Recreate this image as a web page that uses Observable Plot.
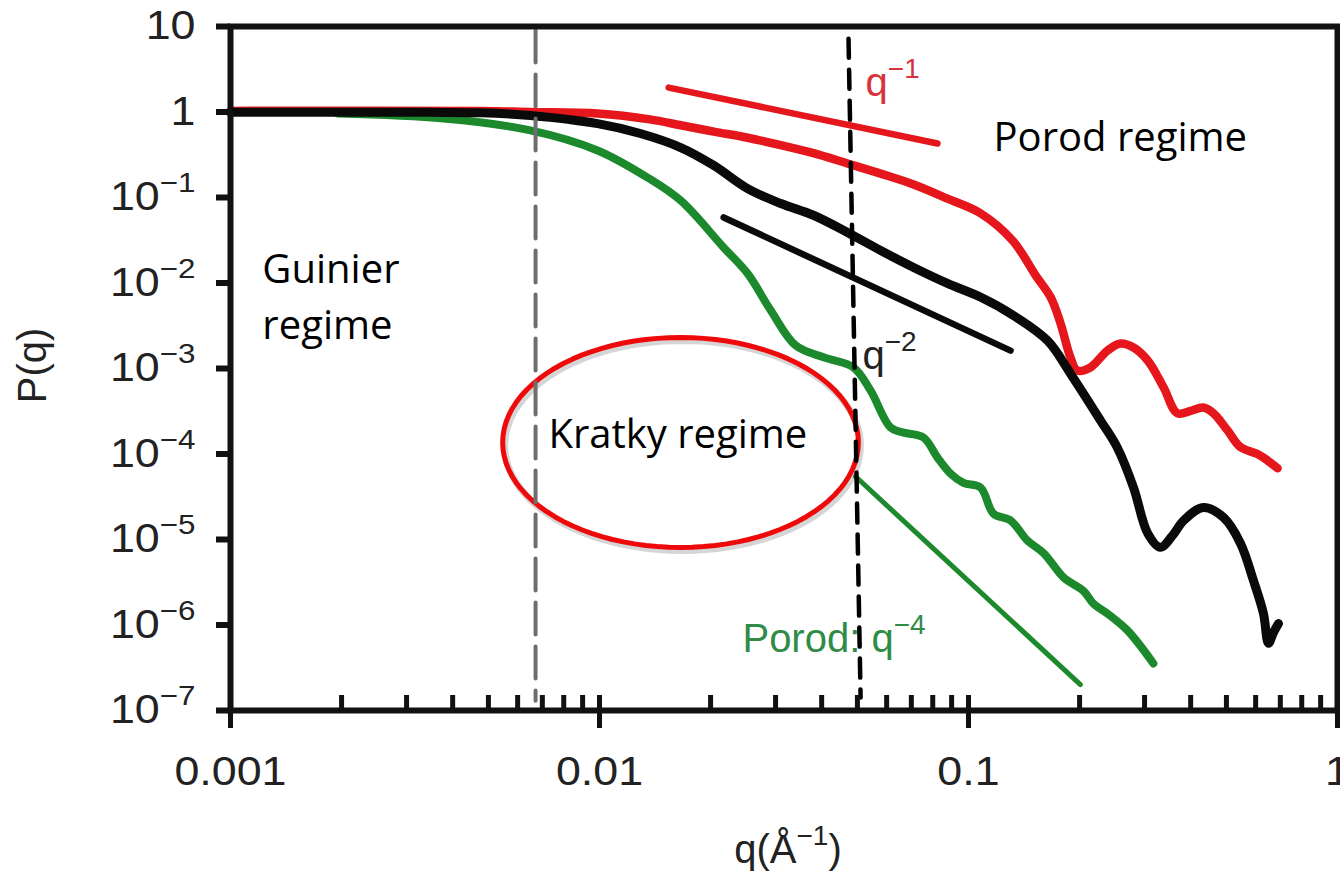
<!DOCTYPE html>
<html><head><meta charset="utf-8">
<script src="https://cdn.jsdelivr.net/npm/d3@7"></script>
<script src="https://cdn.jsdelivr.net/npm/@observablehq/plot@0.6"></script>
<style>
html,body{margin:0;padding:0;background:#fff;}
#chart svg{display:block;}
</style></head><body><div id="chart"></div>
<script>
// ---- axis ticks ----
const xMajor = [0.001, 0.01, 0.1, 1];
const xTickLabels = ["0.001", "0.01", "0.1", "1"];
const xMantissas = [2, 3, 4, 5, 6, 7, 8, 9];
const yTicks = [10, 1, 1e-1, 1e-2, 1e-3, 1e-4, 1e-5, 1e-6, 1e-7];
const yTickLabels = ["10", "1", "10^{−1}", "10^{−2}", "10^{−3}", "10^{−4}", "10^{−5}", "10^{−6}", "10^{−7}"];

// ---- series ----
const blackQ = [0.001, 0.00187, 0.00348, 0.00476, 0.0065, 0.00988, 0.0129, 0.0166, 0.0204, 0.0252, 0.031, 0.038, 0.047, 0.0578, 0.071, 0.0877, 0.108, 0.132, 0.164, 0.189, 0.228, 0.253, 0.28, 0.306, 0.331, 0.357, 0.383, 0.433, 0.491, 0.546, 0.592, 0.630, 0.650, 0.671, 0.692];
const blackP = [0.99, 0.99, 0.99, 0.98, 0.91, 0.73, 0.56, 0.384, 0.237, 0.127, 0.085, 0.062, 0.039, 0.024, 0.0152, 0.0099, 0.0068, 0.0042, 0.0021, 8.7e-4, 2.46e-4, 1.19e-4, 4.06e-5, 1.18e-5, 8.1e-6, 1.11e-5, 1.67e-5, 2.37e-5, 1.81e-5, 9.0e-6, 3.3e-6, 1.36e-6, 6.1e-7, 8.2e-7, 1.04e-6];

const redQ = [0.001, 0.00476, 0.0065, 0.00988, 0.0137, 0.0166, 0.0204, 0.0252, 0.031, 0.038, 0.047, 0.0578, 0.071, 0.0877, 0.108, 0.132, 0.152, 0.167, 0.1775, 0.189, 0.197, 0.214, 0.238, 0.258, 0.280, 0.306, 0.338, 0.368, 0.400, 0.433, 0.461, 0.503, 0.546, 0.607, 0.646, 0.688];
const redP = [1.03, 1.03, 1.0, 0.96, 0.82, 0.70, 0.59, 0.50, 0.41, 0.33, 0.25, 0.19, 0.142, 0.097, 0.065, 0.031, 0.0123, 0.0068, 0.0034, 0.00134, 9.5e-4, 1.03e-3, 1.62e-3, 1.96e-3, 1.76e-3, 1.24e-3, 6.0e-4, 3.0e-4, 3.2e-4, 3.5e-4, 3.0e-4, 1.9e-4, 1.2e-4, 1.0e-4, 8.4e-5, 6.8e-5];

const greenQ = [0.00195, 0.00378, 0.0065, 0.00988, 0.0135, 0.0166, 0.0217, 0.0252, 0.0291, 0.034, 0.0405, 0.0488, 0.0543, 0.0615, 0.0667, 0.0755, 0.0824, 0.0894, 0.0969, 0.1078, 0.1169, 0.130, 0.1445, 0.160, 0.181, 0.205, 0.218, 0.238, 0.270, 0.317];
const greenP = [0.96, 0.84, 0.61, 0.355, 0.171, 0.092, 0.026, 0.0129, 0.0048, 0.00186, 0.00135, 0.00103, 5.5e-4, 2.04e-4, 1.78e-4, 1.56e-4, 9.1e-5, 5.9e-5, 4.6e-5, 4.06e-5, 2.0e-5, 1.67e-5, 9.7e-6, 6.9e-6, 3.6e-6, 2.5e-6, 1.78e-6, 1.36e-6, 8.6e-7, 3.55e-7];

// power-law guide lines
const redFitQ = [0.0154, 0.0824], redFitP = [1.93, 0.428];
const blackFitQ = [0.0217, 0.130], blackFitP = [0.0584, 0.00162];
const greenFitQ = [0.0494, 0.201], greenFitP = [5.46e-5, 2.01e-7];

// regime boundaries (dashed)
const greyDashQ = [0.00671, 0.00671], greyDashP = [9.0, 1.3e-7];
const blackDashQ = [0.0473, 0.0510], blackDashP = [7.2, 1.42e-7];

// annotations
const regimeLabels = ["Guinier", "regime", "Kratky regime", "Porod regime"];
const regimeQ = [0.00122, 0.00122, 0.00727, 0.1169];
const regimeP = [0.00987, 0.00224, 1.16e-4, 0.3545];
const slopeLabels = ["q^{−1}", "q^{−2}", "Porod: q^{−4}"];
const slopeQ = [0.0526, 0.0516, 0.0244];
const slopeP = [1.52, 0.001, 4.77e-7];
const slopeColors = ["#d8323c", "#222222", "#2f8c47"];

// Kratky ellipse (centre and half-axes in decades)
const ellipseCenterQ = 0.01658, ellipseCenterP = 1.364e-4;
const ellipseRxDecades = 0.482, ellipseRyDecades = 1.228;

// ---- build tables ----
const rows = (qs, ps) => qs.map((q, i) => ({q, p: ps[i]}));
const xMinor = xMajor.slice(0, -1).flatMap(d => xMantissas.map(m => m * d));
const ellipse = d3.range(0, 97).map(i => {
  const t = i / 96 * 2 * Math.PI;
  return {
    q: 10 ** (Math.log10(ellipseCenterQ) + ellipseRxDecades * Math.cos(t)),
    p: 10 ** (Math.log10(ellipseCenterP) + ellipseRyDecades * Math.sin(t))
  };
});
const regimes = regimeLabels.map((t, i) => ({t, q: regimeQ[i], p: regimeP[i]}));
const slopes = slopeLabels.map((t, i) => ({t, q: slopeQ[i], p: slopeP[i], c: slopeColors[i]}));

const SANS = "Liberation Sans, Arial, Helvetica, sans-serif";
const CAL = "Open Sans, Noto Sans, sans-serif";

const chart = Plot.plot({
  width: 1340, height: 872,
  marginLeft: 230, marginRight: 3, marginTop: 26, marginBottom: 162,
  x: {type: "log", domain: [1e-3, 1]},
  y: {type: "log", domain: [1e-7, 10]},
  style: {background: "#fff"},
  marks: [
    Plot.line(ellipse, {x: "q", y: "p", stroke: "#888", strokeOpacity: 0.35, strokeWidth: 7, dx: 2, dy: 3, curve: "linear"}),
    Plot.line(ellipse, {x: "q", y: "p", stroke: "#ee0a0a", strokeWidth: 5, curve: "linear"}),
    Plot.text(regimes, {x: "q", y: "p", text: "t", textAnchor: "start", lineAnchor: "bottom", fontFamily: CAL, fontSize: 40, fill: "#000"}),
    Plot.text(slopes, {x: "q", y: "p", text: "t", textAnchor: "start", lineAnchor: "bottom", fontFamily: SANS, fontSize: 40, fill: "c", ariaLabel: "sans-label"}),
    Plot.line(rows(redQ, redP), {x: "q", y: "p", stroke: "#e5171d", strokeWidth: 8.5, curve: "catmull-rom", strokeLinejoin: "round", strokeLinecap: "round"}),
    Plot.line(rows(greenQ, greenP), {x: "q", y: "p", stroke: "#1c8a2c", strokeWidth: 8, curve: "catmull-rom", strokeLinejoin: "round", strokeLinecap: "round"}),
    Plot.line(rows(blackQ, blackP), {x: "q", y: "p", stroke: "#0a0a0a", strokeWidth: 9, curve: "catmull-rom", strokeLinejoin: "round", strokeLinecap: "round"}),
    Plot.line(rows(redFitQ, redFitP), {x: "q", y: "p", stroke: "#e5171d", strokeWidth: 6.5, strokeLinecap: "round"}),
    Plot.line(rows(blackFitQ, blackFitP), {x: "q", y: "p", stroke: "#0a0a0a", strokeWidth: 6.5, strokeLinecap: "round"}),
    Plot.line(rows(greenFitQ, greenFitP), {x: "q", y: "p", stroke: "#1c8a2c", strokeWidth: 5, strokeLinecap: "round"}),
    Plot.line(rows(greyDashQ, greyDashP), {x: "q", y: "p", stroke: "#6e6e6e", strokeWidth: 4, strokeDasharray: "32,12"}),
    Plot.line(rows(blackDashQ, blackDashP), {x: "q", y: "p", stroke: "#000", strokeWidth: 4.5, strokeDasharray: "19,12"}),
    Plot.frame({stroke: "#111", strokeWidth: 6}),
    Plot.ruleX(xMinor, {x: d => d, y1: 1e-7, y2: 1e-7, insetTop: -15, insetBottom: 0, stroke: "#111", strokeWidth: 5}),
    Plot.ruleX(xMajor, {x: d => d, y1: 1e-7, y2: 1e-7, insetTop: -15, insetBottom: -18, stroke: "#111", strokeWidth: 5}),
    Plot.axisX(xMajor, {anchor: "bottom", tickSize: 0, tickPadding: 46, tickFormat: d => xTickLabels[xMajor.indexOf(d)], fontFamily: SANS, fontSize: 40, fill: "#222", label: null}),
    Plot.axisY(yTicks, {anchor: "left", tickSize: 14, tickPadding: 21, strokeWidth: 6, stroke: "#111", tickFormat: d => yTickLabels[yTicks.indexOf(d)], fontFamily: SANS, fontSize: 40, fill: "#222", label: null}),
    Plot.text(["q(Å^{−1})"], {frameAnchor: "bottom", dx: 4, dy: 152, lineAnchor: "bottom", textAnchor: "middle", fontFamily: SANS, fontSize: 40, fill: "#222", ariaLabel: "sans-label"}),
    Plot.text(["P(q)"], {frameAnchor: "left", dx: -197, dy: -3, rotate: -90, lineAnchor: "middle", textAnchor: "middle", fontFamily: SANS, fontSize: 40, fill: "#222"})
  ]
});

document.getElementById("chart").appendChild(chart);

// superscripts: turn "^{...}" into raised tspans
const NS = "http://www.w3.org/2000/svg";
chart.querySelectorAll("text").forEach(t => {
  const s = t.textContent;
  if (!s.includes("^{")) return;
  const fs = parseFloat(getComputedStyle(t).fontSize) || 40;
  const parts = s.split(/(\^\{[^}]*\})/);
  while (t.firstChild) t.removeChild(t.firstChild);
  let raised = false;
  parts.forEach(p => {
    if (!p) return;
    const ts = document.createElementNS(NS, "tspan");
    if (p.startsWith("^{")) {
      ts.textContent = p.slice(2, -1);
      ts.setAttribute("font-size", (fs * 0.7).toFixed(1));
      ts.setAttribute("dy", (-fs * 0.45).toFixed(1));
      raised = true;
    } else {
      ts.textContent = p;
      if (raised) { ts.setAttribute("dy", (fs * 0.45).toFixed(1)); raised = false; }
    }
    t.appendChild(ts);
  });
});

// the reference's sans-serif lettering is slightly stretched horizontally
chart.querySelectorAll('g[aria-label="x-axis tick label"] text, g[aria-label="y-axis tick label"] text, g[aria-label="sans-label"] text').forEach(t => {
  const tr = t.getAttribute("transform");
  if (tr) t.setAttribute("transform", tr + " scale(1.12,1)");
  else {
    const x = +(t.getAttribute("x") || 0);
    t.setAttribute("transform", `translate(${x},0) scale(1.12,1) translate(${-x},0)`);
  }
});
</script></body></html>
